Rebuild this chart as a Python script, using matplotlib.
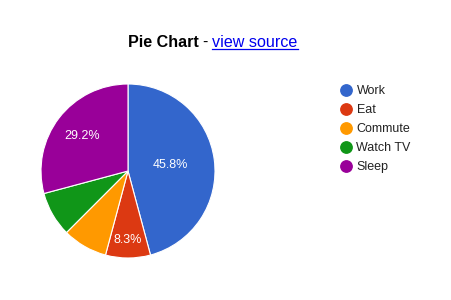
import matplotlib
matplotlib.use("Agg")
import matplotlib.pyplot as plt
from matplotlib.lines import Line2D

# data: hours per day
tasks = ["Work", "Eat", "Commute", "Watch TV", "Sleep"]
hours = [11, 2, 2, 2, 7]
colors = ["#3366cc", "#dc3912", "#ff9900", "#109618", "#990099"]

# radial position of each slice label (None = no label drawn)
label_dist = [0.49, 0.79, None, None, 0.67]

plt.rcParams["font.family"] = ["Liberation Sans", "DejaVu Sans"]

W, H = 451, 300
fig = plt.figure(figsize=(W / 100, H / 100), dpi=100)

# pie centred at (128, 171) px, radius 87 px
cx, cy, r = 128, 171, 87
ax = fig.add_axes([(cx - r) / W, (H - cy - r) / H, 2 * r / W, 2 * r / H])
wedges, texts, autotexts = ax.pie(
    hours, colors=colors, startangle=90, counterclock=False,
    autopct="%.1f%%", pctdistance=1.0,
    wedgeprops=dict(edgecolor="white", linewidth=0.8),
    textprops=dict(color="white", fontsize=9),
)
for t, d in zip(autotexts, label_dist):
    if d is None:
        t.set_text("")
    else:
        x, y = t.get_position()
        t.set_position((x * d, y * d))
ax.set_xlim(-1, 1)
ax.set_ylim(-1, 1)
ax.axis("off")

# title: "Pie Chart - view source"
fig.canvas.draw()
renderer = fig.canvas.get_renderer()
base_y = 1 - 47 / H
t1 = fig.text(128 / W, base_y, "Pie Chart", fontsize=11.6, fontweight="bold",
              color="black", va="baseline")
bb = t1.get_window_extent(renderer)
t2 = fig.text((bb.x1 + 3) / W, base_y, "-", fontsize=11.6, color="black",
              va="baseline")
bb = t2.get_window_extent(renderer)
t3 = fig.text((bb.x1 + 5) / W, base_y, "view source", fontsize=11.6,
              color="#0000ee", va="baseline")
bb = t3.get_window_extent(renderer)
uy = base_y - 2 / H
fig.add_artist(Line2D([bb.x0 / W, bb.x1 / W], [uy, uy], color="#0000ee",
                      linewidth=0.9, transform=fig.transFigure))

# legend
lx, ly0, pitch = 345.5, 89.5, 19
for i, (task, c) in enumerate(zip(tasks, colors)):
    y = 1 - (ly0 + i * pitch) / H
    fig.add_artist(Line2D([lx / W], [y], marker="o", markersize=8.2,
                          color=c, linestyle="none", transform=fig.transFigure))
    fig.text(356.5 / W, y, task, fontsize=9, color="#222222",
             va="center_baseline")

fig.savefig("out.png", dpi=100)
